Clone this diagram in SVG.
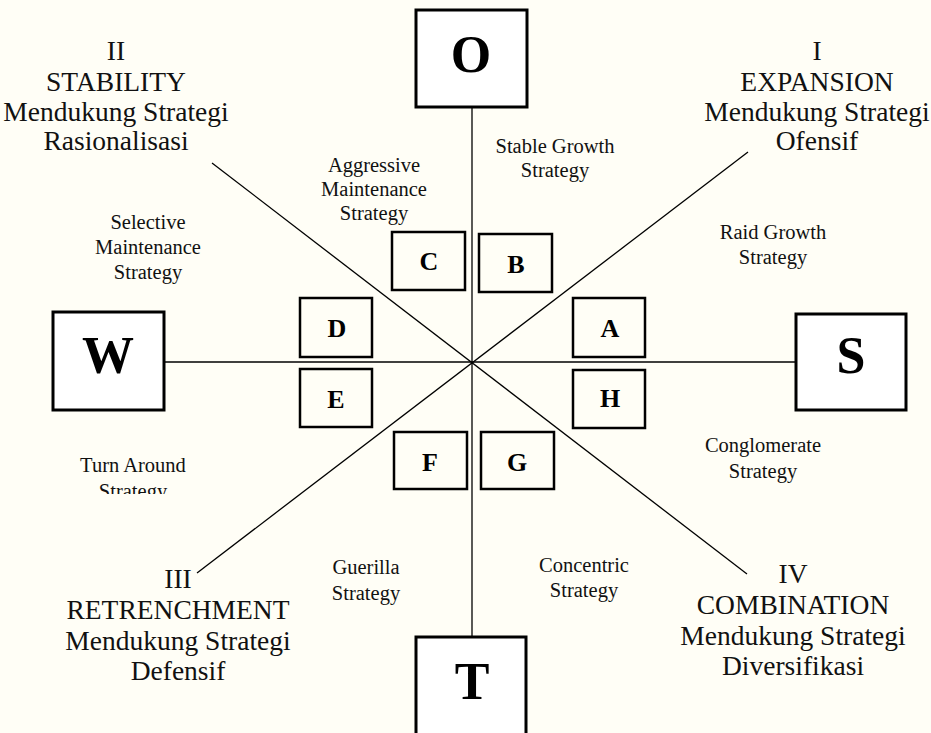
<svg xmlns="http://www.w3.org/2000/svg" width="931" height="733" viewBox="0 0 931 733">
<style>
.big{font-family:"Liberation Serif","Times New Roman",serif;font-size:27.5px;fill:#111;text-anchor:middle}
.sm{font-family:"Liberation Serif","Times New Roman",serif;font-size:20.5px;fill:#111;text-anchor:middle}
.L{font-family:"Liberation Serif","Times New Roman",serif;font-weight:bold;font-size:52px;fill:#000;text-anchor:middle}
.l{font-family:"Liberation Serif","Times New Roman",serif;font-weight:bold;font-size:26px;fill:#000;text-anchor:middle}
.bb{fill:#fff;stroke:#000;stroke-width:3}
.sb{fill:none;stroke:#000;stroke-width:2.5}
.ln{stroke:#000;stroke-width:1.3;fill:none}
</style>
<defs>
<clipPath id="clipTurn"><rect x="0" y="440" width="300" height="54"/></clipPath>
</defs>
<rect x="0" y="0" width="931" height="733" fill="#fffef6"/>
<g id="connectors">
<line class="ln" x1="472" y1="107" x2="472" y2="637"/>
<line class="ln" x1="164" y1="362" x2="796" y2="362"/>
<line class="ln" x1="212" y1="163" x2="747" y2="574"/>
<line class="ln" x1="197" y1="573" x2="748" y2="152"/>
</g>
<g id="node-O"><rect class="bb" x="416" y="10" width="111" height="97"/><text class="L" x="471" y="72">O</text></g>
<g id="node-W"><rect class="bb" x="53" y="312" width="111" height="98"/><text class="L" x="108" y="373">W</text></g>
<g id="node-S"><rect class="bb" x="796" y="314" width="110" height="96"/><text class="L" x="851" y="373">S</text></g>
<g id="node-T"><rect class="bb" x="416" y="637" width="110" height="110"/><text class="L" x="472" y="699">T</text></g>
<g id="node-C"><rect class="sb" x="392" y="232" width="73" height="58"/><text class="l" x="429" y="270">C</text></g>
<g id="node-B"><rect class="sb" x="479" y="234" width="73" height="58"/><text class="l" x="516" y="273">B</text></g>
<g id="node-D"><rect class="sb" x="300" y="298" width="72" height="59"/><text class="l" x="337" y="337">D</text></g>
<g id="node-A"><rect class="sb" x="573" y="298" width="72" height="59"/><text class="l" x="610" y="337">A</text></g>
<g id="node-E"><rect class="sb" x="300" y="369" width="72" height="58"/><text class="l" x="336" y="408">E</text></g>
<g id="node-H"><rect class="sb" x="573" y="370" width="72" height="58"/><text class="l" x="610" y="407">H</text></g>
<g id="node-F"><rect class="sb" x="394" y="432" width="73" height="57"/><text class="l" x="430" y="471">F</text></g>
<g id="node-G"><rect class="sb" x="481" y="432" width="73" height="57"/><text class="l" x="517" y="471">G</text></g>
<g id="label-II"><text class="big" x="116" y="60">II</text><text class="big" x="116" y="91">STABILITY</text><text class="big" x="116" y="121">Mendukung Strategi</text><text class="big" x="116" y="150">Rasionalisasi</text></g>
<g id="label-I"><text class="big" x="817" y="60">I</text><text class="big" x="817" y="91">EXPANSION</text><text class="big" x="817" y="121">Mendukung Strategi</text><text class="big" x="817" y="150">Ofensif</text></g>
<g id="label-III"><text class="big" x="178" y="588">III</text><text class="big" x="178" y="619">RETRENCHMENT</text><text class="big" x="178" y="650">Mendukung Strategi</text><text class="big" x="178" y="680">Defensif</text></g>
<g id="label-IV"><text class="big" x="793" y="583">IV</text><text class="big" x="793" y="614">COMBINATION</text><text class="big" x="793" y="645">Mendukung Strategi</text><text class="big" x="793" y="675">Diversifikasi</text></g>
<g id="label-aggressive"><text class="sm" x="374" y="172">Aggressive</text><text class="sm" x="374" y="196">Maintenance</text><text class="sm" x="374" y="220">Strategy</text></g>
<g id="label-stable"><text class="sm" x="555" y="153">Stable Growth</text><text class="sm" x="555" y="177">Strategy</text></g>
<g id="label-raid"><text class="sm" x="773" y="239">Raid Growth</text><text class="sm" x="773" y="264">Strategy</text></g>
<g id="label-selective"><text class="sm" x="148" y="229">Selective</text><text class="sm" x="148" y="254">Maintenance</text><text class="sm" x="148" y="279">Strategy</text></g>
<g id="label-conglomerate"><text class="sm" x="763" y="452">Conglomerate</text><text class="sm" x="763" y="478">Strategy</text></g>
<g id="label-turn" clip-path="url(#clipTurn)"><text class="sm" x="133" y="472">Turn Around</text><text class="sm" x="133" y="498">Strategy</text></g>
<g id="label-guerilla"><text class="sm" x="366" y="574">Guerilla</text><text class="sm" x="366" y="600">Strategy</text></g>
<g id="label-concentric"><text class="sm" x="584" y="572">Concentric</text><text class="sm" x="584" y="597">Strategy</text></g>
</svg>
